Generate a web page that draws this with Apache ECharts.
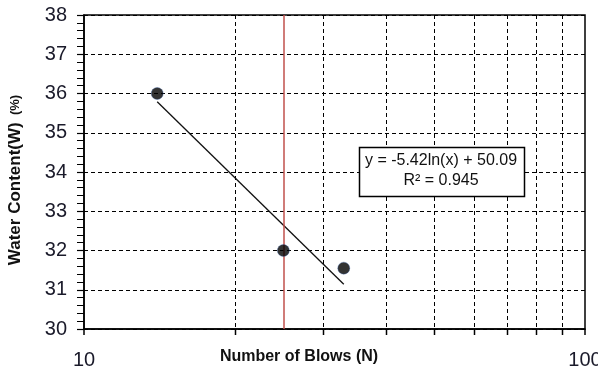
<!DOCTYPE html>
<html>
<head>
<meta charset="utf-8">
<script src="https://cdn.jsdelivr.net/npm/echarts@6/dist/echarts.min.js"></script>
<style>
html,body{margin:0;padding:0;background:#fff;}
#chart{width:598px;height:374px;}
</style>
</head>
<body>
<div id="chart"></div>
<script>
// ---- data ----
const blows = [14, 25, 33];
const water = [36.0, 32.0, 31.55];
const trendX = [14, 33];
const trendY = [35.79, 31.14];
const refBlows = 25;
const gridBlows = [20, 30, 40, 50, 60, 70, 80, 90];
const yMin = 30, yMax = 38, yStep = 1;
const xMin = 10, xMax = 100;
const eqLine1 = 'y = -5.42ln(x) + 50.09';
const eqLine2 = 'R² = 0.945';
const xName = 'Number of Blows (N)';
const yName = 'Water Content(W)';
const yUnit = '(%)';

const FONT = '"Liberation Sans", Arial, sans-serif';
const chart = echarts.init(document.getElementById('chart'), null, {renderer: 'canvas'});

const pointData = blows.map((b, i) => [b, water[i]]);
const trendData = trendX.map((x, i) => [x, trendY[i]]);

const option = {
  animation: false,
  backgroundColor: '#fff',
  grid: {left: 84, top: 15, right: 13, bottom: 45, containLabel: false, outerBoundsMode: 'none',
         show: true, borderColor: '#000', borderWidth: 1.5, backgroundColor: 'transparent'},
  xAxis: {
    type: 'log', logBase: 10, min: xMin, max: xMax,
    name: xName, nameLocation: 'middle', nameGap: 20, nameMoveOverlap: false,
    nameTextStyle: {fontFamily: FONT, fontWeight: 'bold', fontSize: 16, color: '#111', padding: [0, 71, 0, 0], verticalAlign: 'top'},
    axisLine: {show: true, lineStyle: {color: '#000', width: 1.5}},
    axisTick: {show: true, length: 6, lineStyle: {color: '#000', width: 1.5}},
    axisLabel: {fontFamily: FONT, fontSize: 20, color: '#1a1a2a', margin: 21},
    splitLine: {show: false},
    minorTick: {show: false}
  },
  yAxis: {
    type: 'value', min: yMin, max: yMax, interval: yStep,
    name: '{a|' + yName + '}{b|  ' + yUnit + '}', nameLocation: 'middle', nameGap: 60, nameRotate: 90, nameMoveOverlap: false,
    nameTextStyle: {padding: [0, 16, 0, 0], rich: {
      a: {fontFamily: FONT, fontWeight: 'bold', fontSize: 17, color: '#111'},
      b: {fontFamily: FONT, fontWeight: 'bold', fontSize: 13, color: '#111'}
    }},
    axisLine: {show: true, lineStyle: {color: '#000', width: 1.5}},
    axisTick: {show: true, length: 7, lineStyle: {color: '#000', width: 1.2}},
    minorTick: {show: true, splitNumber: 5, length: 7, lineStyle: {color: '#000', width: 1}},
    axisLabel: {fontFamily: FONT, fontSize: 20, color: '#1a1a2a', margin: 17},
    splitLine: {show: true, lineStyle: {color: '#000', width: 1, type: [4, 3]}},
    minorSplitLine: {show: false}
  },
  series: [
    {
      type: 'custom', z: 1, silent: true,
      encode: {x: 0, y: 1},
      data: gridBlows.map(v => [v, yMin]),
      renderItem: function (params, api) {
        const top = api.coord([api.value(0), yMax]);
        const bot = api.coord([api.value(0), yMin]);
        const x = Math.round(top[0]) + 0.5;
        return {type: 'group', children: [
          {type: 'line', shape: {x1: x, y1: top[1], x2: x, y2: bot[1]}, style: {stroke: '#000', lineWidth: 1, lineDash: [4, 3]}},
          {type: 'line', shape: {x1: x, y1: bot[1], x2: x, y2: bot[1] + 6}, style: {stroke: '#000', lineWidth: 1.5}}
        ]};
      }
    },
    {
      type: 'line', z: 3, data: trendData, symbol: 'none', silent: true,
      lineStyle: {color: '#111', width: 1.3}
    },
    {
      type: 'scatter', z: 5, data: pointData, symbol: 'circle', symbolSize: 12,
      itemStyle: {color: '#000', borderColor: 'rgba(50,90,160,0.55)', borderWidth: 0.8},
      markLine: {
        silent: true, symbol: ['none', 'none'], label: {show: false},
        lineStyle: {color: '#c0504d', width: 1.5, type: 'solid'},
        data: [{xAxis: refBlows}]
      }
    }
  ],
  graphic: [
    {type: 'rect', z: 10, shape: {x: 359.5, y: 147.5, width: 165, height: 49}, style: {fill: '#fff', stroke: '#000', lineWidth: 1.5}},
    {type: 'text', z: 11, x: 441, y: 151, style: {text: eqLine1 + '\n' + eqLine2, font: '16px ' + FONT, fill: '#111', textAlign: 'center', lineHeight: 20}}
  ]
};
chart.setOption(option);
</script>
</body>
</html>
